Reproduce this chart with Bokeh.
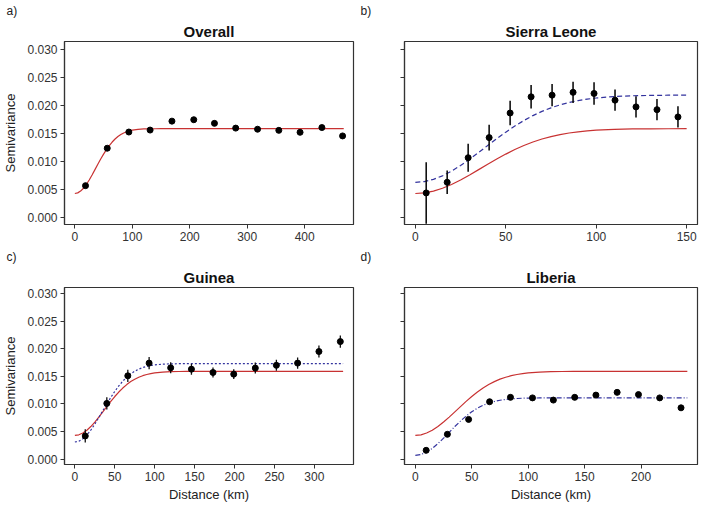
from bokeh.plotting import figure
from bokeh.layouts import column, row
from bokeh.models import Title, FixedTicker, NumeralTickFormatter, Range1d
from bokeh.embed import file_html
from bokeh.resources import INLINE

# ---------------- data ----------------
overall_dist = [18.6, 56.4, 94, 131, 169, 207, 243, 280, 318, 355, 392, 430, 466]
overall_semi = [0.0057, 0.0124, 0.0153, 0.01565, 0.01725, 0.0175, 0.01685, 0.0160,
                0.0158, 0.0156, 0.01525, 0.0161, 0.0146]

sl_dist = [6, 17.6, 29.2, 40.8, 52.4, 64, 75.6, 87.2, 98.8, 110.4, 122, 133.6, 145.2]
sl_semi = [0.0044, 0.0063, 0.0107, 0.0143, 0.0187, 0.0216, 0.0219, 0.0224, 0.0222,
           0.0210, 0.0198, 0.0193, 0.0180]
sl_err = [0.0055, 0.0021, 0.0025, 0.0023, 0.0022, 0.0021, 0.0020, 0.0019, 0.0020,
          0.0019, 0.0019, 0.0019, 0.0019]

gu_dist = [13, 40, 66.3, 93, 120, 146, 173, 199, 226, 252.4, 279, 305.7, 332.5]
gu_semi = [0.0042, 0.0101, 0.0151, 0.0174, 0.01655, 0.0163, 0.0157, 0.0154, 0.0165,
           0.0170, 0.0174, 0.0195, 0.0213]
gu_err = [0.0012, 0.0011, 0.0011, 0.0011, 0.0010, 0.0010, 0.0009, 0.0009, 0.0010,
          0.0010, 0.0010, 0.0011, 0.0011]

lb_dist = [9.6, 28.4, 47.2, 65.8, 84.3, 103.8, 122.3, 141.2, 160, 178.8, 197.7, 216.5, 235.4]
lb_semi = [0.0016, 0.0045, 0.0072, 0.0104, 0.0112, 0.0111, 0.0107, 0.0112, 0.0116,
           0.0121, 0.0117, 0.0111, 0.0093]
lb_err = [0.0003] * 13

# fitted model curves, read at these distances (km)
model_dist = [0, 5, 10, 15, 20, 25, 30, 35, 40, 45, 50, 55, 60, 65, 70, 75, 80, 85, 90,
              95, 100, 110, 120, 130, 140, 150]
overall_model = [0.00430, 0.00441, 0.00473, 0.00524, 0.00591, 0.00672, 0.00762, 0.00857,
                 0.00952, 0.01046, 0.01135, 0.01216, 0.01288, 0.01351, 0.01405, 0.01449,
                 0.01484, 0.01512, 0.01534, 0.01550, 0.01563, 0.01577, 0.01585, 0.01588,
                 0.01589, 0.01590]
sl_model = [0.00630, 0.00643, 0.00683, 0.00746, 0.00830, 0.00931, 0.01044, 0.01165,
            0.01289, 0.01411, 0.01528, 0.01637, 0.01736, 0.01824, 0.01899, 0.01963,
            0.02016, 0.02059, 0.02093, 0.02119, 0.02139, 0.02165, 0.02179, 0.02185,
            0.02189, 0.02190]
gu_model = [0.00310, 0.00325, 0.00368, 0.00437, 0.00528, 0.00635, 0.00754, 0.00877,
            0.00999, 0.01119, 0.01229, 0.01327, 0.01413, 0.01486, 0.01546, 0.01594,
            0.01631, 0.01660, 0.01681, 0.01697, 0.01708, 0.01721, 0.01726, 0.01729,
            0.01730, 0.01730]
lb_model = [0.00070, 0.00085, 0.00127, 0.00195, 0.00281, 0.00380, 0.00486, 0.00591,
            0.00690, 0.00780, 0.00858, 0.00923, 0.00975, 0.01015, 0.01045, 0.01067,
            0.01082, 0.01093, 0.01099, 0.01104, 0.01106, 0.01109, 0.01110, 0.01110,
            0.01110, 0.01110]
# where each panel's curves end (km)
end_a, end_b, end_c, end_d = 468, 150, 336, 241

y_ticks = [0, 0.005, 0.010, 0.015, 0.020, 0.025, 0.030]

# ---------------- styling ----------------
FONT = "Liberation Sans"
RED = "#c83232"
BLUE = "#33339e"
FRAME = "#333333"


def make_panel(letter, name, xr, yr, xticks, width, height, left, right, bottom,
               ylabel=None, xlabel=None, show_ylabels=True, letter_offset=0):
    p = figure(width=width, height=height, title=None, toolbar_location=None,
               output_backend="svg", x_range=Range1d(*xr), y_range=Range1d(*yr),
               min_border_left=left, min_border_right=right, min_border_top=38,
               min_border_bottom=bottom)
    p.add_layout(Title(text=name, align="center", text_font=FONT, text_font_size="15px",
                       text_font_style="bold", text_color="#111111", standoff=4), "above")
    p.add_layout(Title(text=letter, align="left", text_font=FONT, text_font_size="12px",
                       text_font_style="normal", text_color="#222222", offset=letter_offset,
                       standoff=2), "above")
    p.grid.visible = False
    p.outline_line_color = FRAME
    p.outline_line_width = 1.2
    p.background_fill_color = "white"
    p.border_fill_color = "white"
    for ax in (p.xaxis[0], p.yaxis[0]):
        ax.axis_line_color = FRAME
        ax.axis_line_width = 1.2
        ax.major_tick_line_color = FRAME
        ax.major_tick_out = 4
        ax.major_tick_in = 0
        ax.minor_tick_line_color = None
        ax.major_label_text_font = FONT
        ax.major_label_text_font_size = "12px"
        ax.major_label_text_color = "#333333"
        ax.major_label_standoff = 3
        ax.axis_label_text_font = FONT
        ax.axis_label_text_font_size = "13px"
        ax.axis_label_text_font_style = "normal"
        ax.axis_label_text_color = "#222222"
    p.xaxis.ticker = FixedTicker(ticks=xticks)
    p.yaxis.ticker = FixedTicker(ticks=y_ticks)
    p.yaxis.formatter = NumeralTickFormatter(format="0.000")
    if not show_ylabels:
        p.yaxis.major_label_overrides = {t: "" for t in y_ticks}
    if ylabel:
        p.yaxis.axis_label = ylabel
        p.yaxis.axis_label_standoff = 6
    if xlabel:
        p.xaxis.axis_label = xlabel
        p.xaxis.axis_label_standoff = 3
    return p


def model_line(p, vals, end, color, dash, lw=1.2):
    xs = [d for d in model_dist if d <= end]
    ys = vals[:len(xs)]
    if end > xs[-1]:
        xs = xs + [end]
        ys = ys + [vals[-1]]
    p.line(xs, ys, line_color=color, line_width=lw, line_dash=dash)


def points(p, xs, ys, errs=None, lw=1.5):
    if errs is not None:
        lo = [y - e for y, e in zip(ys, errs)]
        hi = [y + e for y, e in zip(ys, errs)]
        p.segment(x0=xs, y0=lo, x1=xs, y1=hi, line_color="#111111", line_width=lw)
    p.scatter(xs, ys, size=6, fill_color="black", line_color="black")


TOP_H, BOT_H = 246, 258
A_W, B_W = 358, 342
y_top = (-0.00125, 0.0315)
y_bot = (-0.00097, 0.0311)

pa = make_panel("a)", "Overall", (-18, 485), y_top, [0, 100, 200, 300, 400], A_W, TOP_H,
                60, 5, 22, ylabel="Semivariance", letter_offset=-58)
model_line(pa, overall_model, end_a, RED, "solid")
points(pa, overall_dist, overall_semi)

pb = make_panel("b)", "Sierra Leone", (-6, 156), y_top, [0, 50, 100, 150], B_W, TOP_H,
                46, 3, 22, show_ylabels=False, letter_offset=-44)
model_line(pb, overall_model, end_b, RED, "solid")
model_line(pb, sl_model, end_b, BLUE, "5 3")
points(pb, sl_dist, sl_semi, sl_err, lw=1.6)

pc = make_panel("c)", "Guinea", (-13, 349), y_bot, [0, 50, 100, 150, 200, 250, 300], A_W,
                BOT_H, 60, 5, 36, ylabel="Semivariance", xlabel="Distance (km)",
                letter_offset=-58)
model_line(pc, overall_model, end_c, RED, "solid")
model_line(pc, gu_model, end_c, BLUE, "2 2")
points(pc, gu_dist, gu_semi, gu_err, lw=1.3)

pd = make_panel("d)", "Liberia", (-9.6, 250), y_bot, [0, 50, 100, 150, 200], B_W, BOT_H,
                46, 3, 36, show_ylabels=False, xlabel="Distance (km)", letter_offset=-44)
model_line(pd, overall_model, end_d, RED, "solid")
model_line(pd, lb_model, end_d, BLUE, "5 2 1 2")
points(pd, lb_dist, lb_semi, lb_err, lw=1.0)

layout = column(row(pa, pb), row(pc, pd))

open("out.html", "w").write(file_html(layout, INLINE))
